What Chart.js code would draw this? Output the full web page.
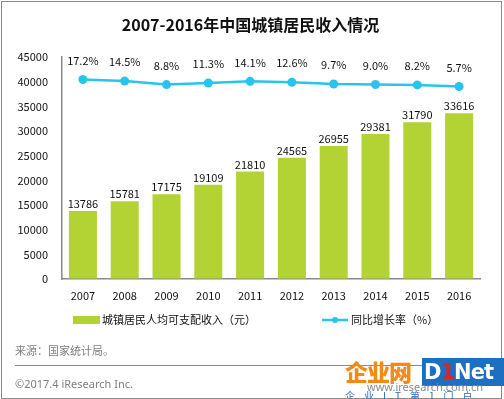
<!DOCTYPE html>
<html>
<head>
<meta charset="utf-8">
<script src="https://cdn.jsdelivr.net/npm/chart.js@4/dist/chart.umd.min.js"></script>
<style>
body{margin:0;background:#fff;font-family:"Noto Sans CJK SC","Noto Sans",sans-serif;}
#wrap{position:relative;width:504px;height:399px;overflow:hidden;}
#frame{position:absolute;left:1px;top:1px;width:501px;height:398px;box-sizing:border-box;border:1px solid #8a8a8a;}
#chart{position:absolute;left:0;top:0;}
.t{position:absolute;white-space:nowrap;}
#title{left:0;width:501px;top:12px;text-align:center;font-size:16px;font-weight:bold;color:#111;line-height:24px;}
#src{left:15px;top:342px;font-size:11px;color:#7f7f7f;line-height:16px;}
#sep{position:absolute;left:15px;top:365px;width:476px;height:1px;background:#8a8a8a;}
#copy{left:15px;top:376px;font-size:11px;color:#7f7f7f;line-height:16px;font-family:"Noto Sans",sans-serif;}
#wm1{left:345px;top:356px;font-size:23px;font-weight:900;color:#f28a1a;line-height:30px;letter-spacing:-1px;}
#wm2{left:422px;top:358px;width:82px;height:28px;background:#1d6fc2;color:#fff;font-size:21px;font-weight:bold;line-height:28px;font-family:"DejaVu Sans",sans-serif;padding-left:2px;letter-spacing:-1px;box-sizing:border-box;overflow:hidden;}
#wm2 span{color:#e0231c;}
#wm3{left:367px;top:380px;font-size:11px;color:#8a8a8a;line-height:14px;font-family:"Noto Sans",sans-serif;}
#wm4{left:345px;top:389px;font-size:10px;color:#2a6ebd;line-height:14px;letter-spacing:9px;}
</style>
</head>
<body>
<div id="wrap">
<canvas id="chart" width="504" height="399"></canvas>
<div id="frame"></div>
<div class="t" id="title">2007-2016年中国城镇居民收入情况</div>
<div class="t" id="src">来源：国家统计局。</div>
<div id="sep"></div>
<div class="t" id="copy">©2017.4 iResearch Inc.</div>
<div class="t" id="wm1">企业网</div>
<div class="t" id="wm2">D<span>1</span>Net</div>
<div class="t" id="wm3">www.iresearch.com.cn</div>
<div class="t" id="wm4">企业IT第1门户</div>
</div>
<script>
const years=['2007','2008','2009','2010','2011','2012','2013','2014','2015','2016'];
const income=[13786,15781,17175,19109,21810,24565,26955,29381,31790,33616];
const growth=[17.2,14.5,8.8,11.3,14.1,12.6,9.7,9.0,8.2,5.7];
const incomeLabel='城镇居民人均可支配收入（元）';
const growthLabel='同比增长率（%）';
const barColor='#b3d234';
const lineColor='#29c4ee';
const FONT='"Noto Sans CJK SC","Noto Sans",sans-serif';

const valueLabels={
  id:'valueLabels',
  afterDatasetsDraw(chart){
    const ctx=chart.ctx;
    ctx.save();
    ctx.font='11px '+FONT;
    ctx.fillStyle='#111';
    ctx.textAlign='center';
    ctx.textBaseline='middle';
    chart.getDatasetMeta(1).data.forEach((el,i)=>{
      ctx.fillText(String(income[i]),el.x,el.y-7);
    });
    chart.getDatasetMeta(0).data.forEach((el,i)=>{
      ctx.fillText(growth[i].toFixed(1)+'%',el.x,el.y-19);
    });
    ctx.restore();
  }
};

const legendDraw={
  id:'legendDraw',
  afterDraw(chart){
    const ctx=chart.ctx;
    ctx.save();
    ctx.fillStyle=barColor;
    ctx.fillRect(73,316,27,8);
    ctx.strokeStyle=lineColor;
    ctx.lineWidth=2.5;
    ctx.beginPath();ctx.moveTo(322,320);ctx.lineTo(348,320);ctx.stroke();
    ctx.fillStyle=lineColor;
    ctx.beginPath();ctx.arc(335,320,3,0,Math.PI*2);ctx.fill();
    ctx.font='11px '+FONT;
    ctx.fillStyle='#111';
    ctx.textBaseline='middle';
    ctx.fillText(incomeLabel,102,320);
    ctx.fillText(growthLabel,351,320);
    ctx.restore();
  }
};

new Chart(document.getElementById('chart'),{
  data:{
    labels:years,
    datasets:[
      {type:'line',label:growthLabel,data:growth,yAxisID:'y1',borderColor:lineColor,backgroundColor:lineColor,
       borderWidth:2.5,pointRadius:4.5,pointBackgroundColor:lineColor,pointBorderWidth:0,tension:0,order:0},
      {type:'bar',label:incomeLabel,data:income,yAxisID:'y',backgroundColor:barColor,
       barPercentage:0.67,categoryPercentage:1,order:1}
    ]
  },
  options:{
    responsive:false,
    animation:false,
    devicePixelRatio:1,
    layout:{padding:{left:12,right:24,top:57,bottom:90}},
    plugins:{legend:{display:false},tooltip:{enabled:false},title:{display:false}},
    scales:{
      x:{
        grid:{display:true,drawOnChartArea:false,drawTicks:false},
        border:{display:true,color:'#8a8a8a',width:1.5},
        ticks:{color:'#111',font:{size:11,family:FONT},padding:10,maxRotation:0},
        afterFit(s){s.height=30;}
      },
      y:{
        min:0,max:45000,
        grid:{display:true,drawOnChartArea:false,drawTicks:false},
        border:{display:true,color:'#8a8a8a',width:1.5},
        ticks:{stepSize:5000,color:'#111',font:{size:11,family:FONT},padding:14,callback:v=>String(v)},
        afterFit(s){s.width=50;}
      },
      y1:{display:false,min:-310,max:54,position:'right'}
    }
  },
  plugins:[valueLabels,legendDraw]
});
</script>
</body>
</html>
